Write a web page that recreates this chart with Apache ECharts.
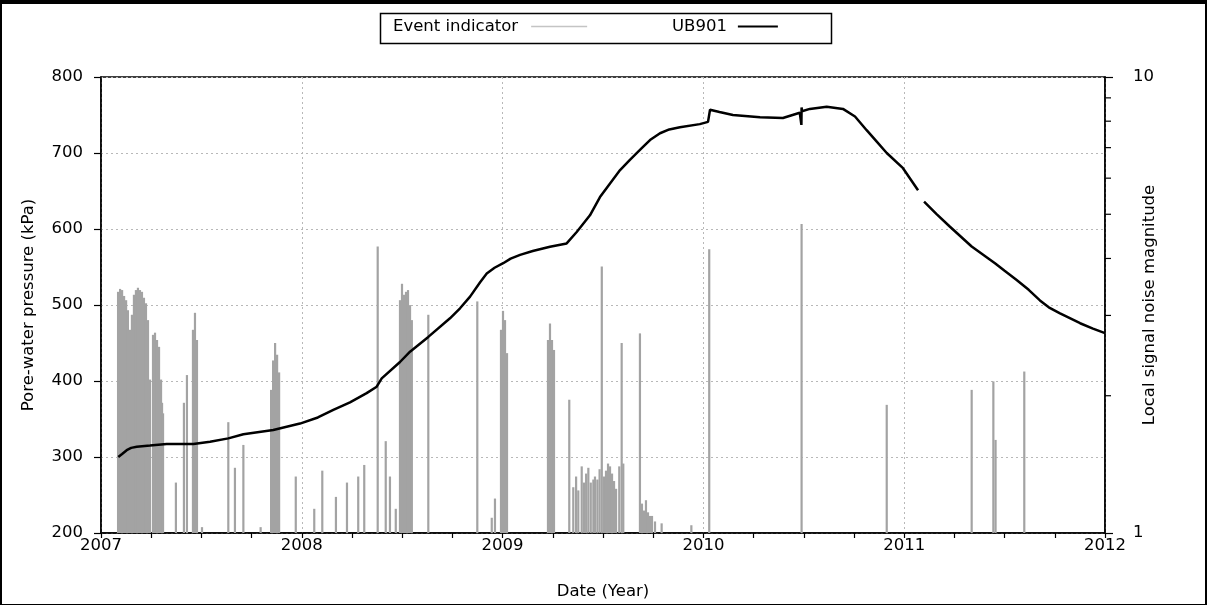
<!DOCTYPE html>
<html>
<head>
<meta charset="utf-8">
<script src="https://cdn.jsdelivr.net/npm/echarts@6/dist/echarts.min.js"></script>
<style>
html,body{margin:0;padding:0;background:#fff;}
#chart{width:1207px;height:605px;}
</style>
</head>
<body>
<div id="chart"></div>
<script>
// ---- Data ----
const xTickLabels = ['2007', '2008', '2009', '2010', '2011', '2012'];
const leftTickLabels = ['200', '300', '400', '500', '600', '700', '800'];
const rightTickLabels = ['1', '10'];

// Event indicator: date (decimal year) and local signal noise magnitude (log axis)
const eventDates = [
  2007.085, 2007.095, 2007.105, 2007.115, 2007.125, 2007.134, 2007.144, 2007.154, 2007.164, 2007.174,
  2007.184, 2007.194, 2007.204, 2007.214, 2007.224, 2007.234, 2007.244,
  2007.259, 2007.269, 2007.279, 2007.289, 2007.299, 2007.304, 2007.309,
  2007.373, 2007.413, 2007.428, 2007.458, 2007.468, 2007.478, 2007.503,
  2007.634, 2007.667, 2007.709, 2007.795,
  2007.847, 2007.857, 2007.867, 2007.877, 2007.887,
  2007.970, 2008.062, 2008.102, 2008.170, 2008.225, 2008.281, 2008.311,
  2008.378, 2008.418, 2008.439, 2008.468,
  2008.489, 2008.499, 2008.509, 2008.519, 2008.529, 2008.539, 2008.548,
  2008.630, 2008.874, 2008.946, 2008.962,
  2008.992, 2009.002, 2009.012, 2009.022,
  2009.226, 2009.236, 2009.246, 2009.256,
  2009.332, 2009.352, 2009.366, 2009.377, 2009.394, 2009.405, 2009.416, 2009.427, 2009.439, 2009.452,
  2009.460, 2009.472, 2009.483, 2009.494, 2009.505, 2009.515, 2009.525, 2009.535, 2009.545, 2009.555,
  2009.565, 2009.581, 2009.593, 2009.601,
  2009.684, 2009.694, 2009.704, 2009.714, 2009.724, 2009.734, 2009.744, 2009.759, 2009.792, 2009.940,
  2010.029, 2010.489, 2010.913, 2011.336, 2011.444, 2011.455, 2011.598
];
const eventMagnitudes = [
  3.38, 3.43, 3.41, 3.31, 3.24, 3.08, 2.79, 3.01, 3.33, 3.41,
  3.45, 3.41, 3.38, 3.28, 3.19, 2.93, 2.17,
  2.72, 2.75, 2.65, 2.56, 2.17, 1.93, 1.83,
  1.29, 1.93, 2.22, 2.79, 3.04, 2.65, 1.03,
  1.75, 1.39, 1.56, 1.03,
  2.06, 2.39, 2.61, 2.46, 2.25,
  1.33, 1.13, 1.37, 1.20, 1.29, 1.33, 1.41,
  4.25, 1.59, 1.33, 1.13,
  3.24, 3.52, 3.33, 3.38, 3.41, 3.16, 2.93,
  3.01, 3.22, 1.08, 1.19,
  2.79, 3.07, 2.93, 2.48,
  2.65, 2.88, 2.65, 2.52,
  1.96, 1.26, 1.33, 1.24, 1.40, 1.29, 1.35, 1.39, 1.29, 1.31,
  1.33, 1.31, 1.38, 3.84, 1.33, 1.37, 1.42, 1.40, 1.35, 1.30,
  1.25, 1.40, 2.61, 1.42,
  2.74, 1.16, 1.12, 1.18, 1.11, 1.09, 1.09, 1.06, 1.05, 1.04,
  4.19, 4.76, 1.91, 2.06, 2.15, 1.60, 2.26
];

// UB901 pore-water pressure (kPa); null marks the data gap
const ubDates = [
  2007.086, 2007.105, 2007.128, 2007.150, 2007.178, 2007.244, 2007.327, 2007.460, 2007.543, 2007.634,
  2007.709, 2007.858, 2007.991, 2008.080, 2008.157, 2008.240, 2008.323, 2008.373, 2008.398, 2008.489,
  2008.539, 2008.630, 2008.738, 2008.788, 2008.838, 2008.888, 2008.921, 2008.960, 2009.003, 2009.040,
  2009.087, 2009.150, 2009.236, 2009.319, 2009.369, 2009.435, 2009.485, 2009.535, 2009.585, 2009.634,
  2009.684, 2009.734, 2009.784, 2009.830, 2009.883, 2009.982, 2010.023, 2010.033, 2010.080, 2010.147,
  2010.282, 2010.396, 2010.480, 2010.487, 2010.488, 2010.489, 2010.491, 2010.530, 2010.614, 2010.695,
  2010.755, 2010.813, 2010.860, 2010.913, 2010.994, 2011.069, 2011.084, 2011.099, 2011.160, 2011.228,
  2011.336, 2011.452, 2011.500, 2011.560, 2011.620, 2011.676, 2011.720, 2011.776, 2011.830, 2011.876,
  2011.940, 2012.000
];
const ubPressure = [
  300, 304, 309, 312, 313.5, 315, 317, 317, 320, 324.5,
  330, 335.5, 344, 352, 362, 372, 384, 392.5, 403.5, 425,
  438.5, 458, 482.5, 495.7, 511, 530, 541.5, 549, 555, 561,
  566, 571, 576.7, 581, 596, 618, 642, 660, 677.5, 691,
  704, 717, 726, 731, 734, 738, 741, 757, 754, 750,
  747, 746, 753, 753, 737, 760, 755, 758, 761, 758,
  748, 730, 716, 700, 680, 651, null, 636, 620, 603,
  577, 555, 545, 533, 520, 506, 497, 489, 482, 476,
  469, 463
];

// ---- Build ----
const FONT = 'DejaVu Sans';
const FS = 16.5;
const eventData = eventDates.map((d, i) => [d, eventMagnitudes[i]]);
const ubData = ubDates.map((d, i) => [d, ubPressure[i] === null ? '-' : ubPressure[i]]);

const chart = echarts.init(document.getElementById('chart'), null, {renderer: 'canvas'});

const gridStyle = {show: true, lineStyle: {color: '#b8b8b8', type: [2, 3], width: 1}};

chart.setOption({
  animation: false,
  backgroundColor: '#fff',
  textStyle: {fontFamily: FONT, color: '#000'},
  grid: {left: 101, right: 102, top: 77, bottom: 72, show: true, borderColor: '#000', borderWidth: 1.5, backgroundColor: 'transparent'},
  legend: [
    {
      left: 393, top: 18, padding: 0, itemGap: 0, align: 'right',
      itemWidth: 56, itemHeight: 1.5,
      textStyle: {fontFamily: FONT, fontSize: FS, color: '#000', padding: [0, 8, 0, 0]},
      data: [{name: 'Event indicator', icon: 'rect', itemStyle: {color: '#c4c4c4'}}]
    },
    {
      left: 672, top: 18, padding: 0, itemGap: 0, align: 'right',
      itemWidth: 40, itemHeight: 2,
      textStyle: {fontFamily: FONT, fontSize: FS, color: '#000', padding: [0, 6, 0, 0]},
      data: [{name: 'UB901', icon: 'rect', itemStyle: {color: '#000'}}]
    }
  ],
  xAxis: {
    type: 'value', min: 2007, max: 2012, interval: 1,
    name: 'Date (Year)', nameLocation: 'middle', nameGap: 50,
    nameTextStyle: {fontFamily: FONT, fontSize: FS, color: '#000'},
    axisLine: {show: true, lineStyle: {color: '#000', width: 1.5}},
    axisTick: {show: true, length: 5, lineStyle: {color: '#000', width: 1.2}},
    minorTick: {show: true, splitNumber: 4, length: 5, lineStyle: {color: '#000', width: 1.2}},
    axisLabel: {margin: 4, fontFamily: FONT, fontSize: FS, color: '#000',
      formatter: v => xTickLabels[Math.round(v - 2007)] || ''},
    splitLine: gridStyle
  },
  yAxis: [
    {
      type: 'value', min: 200, max: 800, interval: 100, position: 'left',
      name: 'Pore-water pressure (kPa)', nameLocation: 'middle', nameGap: 64, nameRotate: 90,
      nameTextStyle: {fontFamily: FONT, fontSize: FS, color: '#000'},
      axisLine: {show: true, lineStyle: {color: '#000', width: 1.5}},
      axisTick: {show: true, length: 7, lineStyle: {color: '#000', width: 1.2}},
      axisLabel: {margin: 18, fontFamily: FONT, fontSize: FS, color: '#000',
        formatter: v => leftTickLabels[Math.round((v - 200) / 100)] || ''},
      splitLine: gridStyle
    },
    {
      type: 'log', logBase: 10, min: 1, max: 10, position: 'right',
      name: 'Local signal noise magnitude', nameLocation: 'middle', nameGap: 36, nameRotate: 90,
      nameMoveOverlap: false,
      nameTextStyle: {fontFamily: FONT, fontSize: FS, color: '#000'},
      axisLine: {show: true, lineStyle: {color: '#000', width: 1.5}},
      axisTick: {show: true, length: 8, lineStyle: {color: '#000', width: 1.2}},
      axisLabel: {margin: 28, fontFamily: FONT, fontSize: FS, color: '#000',
        formatter: v => (Math.abs(v - 1) < 1e-6 ? rightTickLabels[0] : (Math.abs(v - 10) < 1e-6 ? rightTickLabels[1] : ''))},
      splitLine: {show: false}
    }
  ],
  series: [
    {
      name: 'Event indicator', type: 'bar', yAxisIndex: 1, xAxisIndex: 0,
      data: eventData, barWidth: 2.2, barGap: '-100%',
      itemStyle: {color: '#a3a3a3'}, z: 1
    },
    {
      name: 'UB901', type: 'line', yAxisIndex: 0, xAxisIndex: 0,
      data: ubData, showSymbol: false, symbol: 'none', connectNulls: false,
      lineStyle: {color: '#000', width: 2.5}, itemStyle: {color: '#000'}, z: 3
    }
  ]
});

// Extra decorations: right-axis minor ticks at 2..9, legend box, page border
const graphics = [];
const xRight = chart.convertToPixel({xAxisIndex: 0}, 2012);
for (let v = 2; v <= 9; v++) {
  const y = chart.convertToPixel({yAxisIndex: 1}, v);
  graphics.push({type: 'line', shape: {x1: xRight, y1: y, x2: xRight + 6, y2: y}, style: {stroke: '#000', lineWidth: 1.2}, silent: true});
}
graphics.push({type: 'rect', shape: {x: 380.5, y: 13.5, width: 451, height: 30}, style: {fill: 'none', stroke: '#000', lineWidth: 1.5}, silent: true});
graphics.push({type: 'rect', shape: {x: 0, y: 0, width: 1207, height: 4}, style: {fill: '#000'}, silent: true});
graphics.push({type: 'rect', shape: {x: 0, y: 0, width: 2, height: 605}, style: {fill: '#000'}, silent: true});
graphics.push({type: 'rect', shape: {x: 1205, y: 0, width: 2, height: 605}, style: {fill: '#000'}, silent: true});
graphics.push({type: 'rect', shape: {x: 0, y: 604, width: 1207, height: 1}, style: {fill: '#000'}, silent: true});
chart.setOption({graphic: graphics});
</script>
</body>
</html>
